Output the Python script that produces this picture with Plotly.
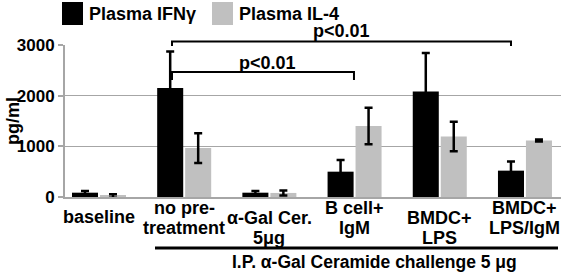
import plotly.graph_objects as go

# ---- data ----
categories = ["baseline", "no pre-treatment", "a-Gal Cer. 5ug", "B cell+IgM", "BMDC+LPS", "BMDC+LPS/IgM"]
label_lines = [["baseline"], ["no pre-", "treatment"], ["α-Gal Cer.", "5μg"],
               ["B cell+", "IgM"], ["BMDC+", "LPS"], ["BMDC+", "LPS/IgM"]]
ifn_values = [85, 2150, 85, 500, 2080, 520]
ifn_errors = [35, 720, 35, 230, 760, 180]
il4_values = [20, 965, 80, 1400, 1195, 1115]
il4_errors = [35, 295, 50, 360, 290, 20]
y_ticks = [0, 1000, 2000, 3000]
series_names = ["Plasma IFNγ", "Plasma IL-4"]
pvalue_text = "p<0.01"
group_title = "I.P. α-Gal Ceramide challenge 5 μg"

W, H = 561, 272
ML, MR, MT, MB = 65, 0, 45, 75
XMIN, XMAX = -0.399, 5.423
BLACK = "#000000"
GRAY = "#c0c0c0"
FONT = "Liberation Sans, Arial, sans-serif"


def px_x(px):
    return (px - ML) / (W - ML - MR)


def px_y(py):
    return (H - MB - py) / (H - MT - MB)


def idx_x(i):
    return (i - XMIN) / (XMAX - XMIN)


fig = go.Figure()
fig.add_trace(go.Bar(
    x=list(range(len(categories))), y=ifn_values, name=series_names[0],
    marker=dict(color=BLACK, line=dict(width=0)),
    error_y=dict(type="data", array=ifn_errors, color=BLACK, thickness=2.5, width=4),
    showlegend=False))
fig.add_trace(go.Bar(
    x=list(range(len(categories))), y=il4_values, name=series_names[1],
    marker=dict(color=GRAY, line=dict(width=0)),
    error_y=dict(type="data", array=il4_errors, color=BLACK, thickness=2.5, width=4),
    showlegend=False))

shapes = []
annotations = []

# legend
legend_items = [(62, 83, BLACK, 87, series_names[0]), (212, 233, GRAY, 237, series_names[1])]
for x0, x1, col, tx, name in legend_items:
    shapes.append(dict(type="rect", xref="paper", yref="paper",
                       x0=px_x(x0), x1=px_x(x1), y0=px_y(25), y1=px_y(2),
                       fillcolor=col, line=dict(width=0)))
    annotations.append(dict(text=name, xref="paper", yref="paper", x=px_x(tx), y=px_y(14),
                            xanchor="left", yanchor="middle", showarrow=False,
                            font=dict(family=FONT, size=18, color=BLACK, weight="bold")))

# significance brackets
brackets = [  # (left idx, right idx, line py, tick bottom py, text idx, text py)
    (0.857, 4.836, 41.5, 46, 2.85, 31),
    (0.857, 2.993, 72, 80, 1.98, 63),
]
for xl, xr, ly, by, tx, ty in brackets:
    shapes.append(dict(type="path", xref="paper", yref="paper",
                       path=f"M {idx_x(xl)} {px_y(by)} L {idx_x(xl)} {px_y(ly)} "
                            f"L {idx_x(xr)} {px_y(ly)} L {idx_x(xr)} {px_y(by)}",
                       line=dict(color=BLACK, width=2)))
    annotations.append(dict(text=pvalue_text, xref="paper", yref="paper", x=idx_x(tx), y=px_y(ty),
                            xanchor="center", yanchor="middle", showarrow=False,
                            font=dict(family=FONT, size=18, color=BLACK, weight="bold")))

# category labels
line_rows = {0: [217], 1: [207.5, 227.5], 2: [217.5, 237.5], 3: [207.5, 227.5], 4: [217.5, 237.5], 5: [207.5, 227.5]}
for i, lines in enumerate(label_lines):
    for ln, py in zip(lines, line_rows[i]):
        annotations.append(dict(text=ln, xref="paper", yref="paper", x=idx_x(i), y=px_y(py),
                                xanchor="center", yanchor="middle", showarrow=False,
                                font=dict(family=FONT, size=18, color=BLACK, weight="bold")))

# group line and title
shapes.append(dict(type="line", xref="paper", yref="paper", x0=px_x(155), x1=px_x(558),
                   y0=px_y(248), y1=px_y(248), line=dict(color=BLACK, width=3)))
annotations.append(dict(text=group_title, xref="paper", yref="paper", x=px_x(374), y=px_y(262),
                        xanchor="center", yanchor="middle", showarrow=False,
                        font=dict(family=FONT, size=17.5, color=BLACK, weight="bold")))

# y title
annotations.append(dict(text="pg/ml", xref="paper", yref="paper", x=px_x(13), y=px_y(121),
                        xanchor="center", yanchor="middle", showarrow=False, textangle=-90,
                        font=dict(family=FONT, size=18, color=BLACK, weight="bold")))

fig.update_layout(
    width=W, height=H,
    margin=dict(l=ML, r=MR, t=MT, b=MB, pad=0),
    paper_bgcolor="white", plot_bgcolor="white",
    barmode="group", bargap=0.343, bargroupgap=0.07,
    font=dict(family=FONT, size=16, color=BLACK, weight="bold"),
    shapes=shapes, annotations=annotations,
    xaxis=dict(range=[XMIN, XMAX], showticklabels=False, ticks="", showgrid=False,
               zeroline=False, showline=True, linecolor="#a6a6a6", linewidth=2, fixedrange=True),
    yaxis=dict(range=[0, 3000], tickvals=y_ticks, ticktext=[str(v) for v in y_ticks],
               showgrid=True, gridcolor="#a6a6a6", gridwidth=1, zeroline=False,
               showline=True, linecolor="#a6a6a6", linewidth=2,
               ticks="outside", ticklen=5, tickwidth=2, tickcolor="#a6a6a6",
               tickfont=dict(family=FONT, size=17, color=BLACK, weight="bold"), fixedrange=True),
)

fig.write_html("out.html", config={"displayModeBar": False},
               post_script="document.body.style.margin='0px';")
